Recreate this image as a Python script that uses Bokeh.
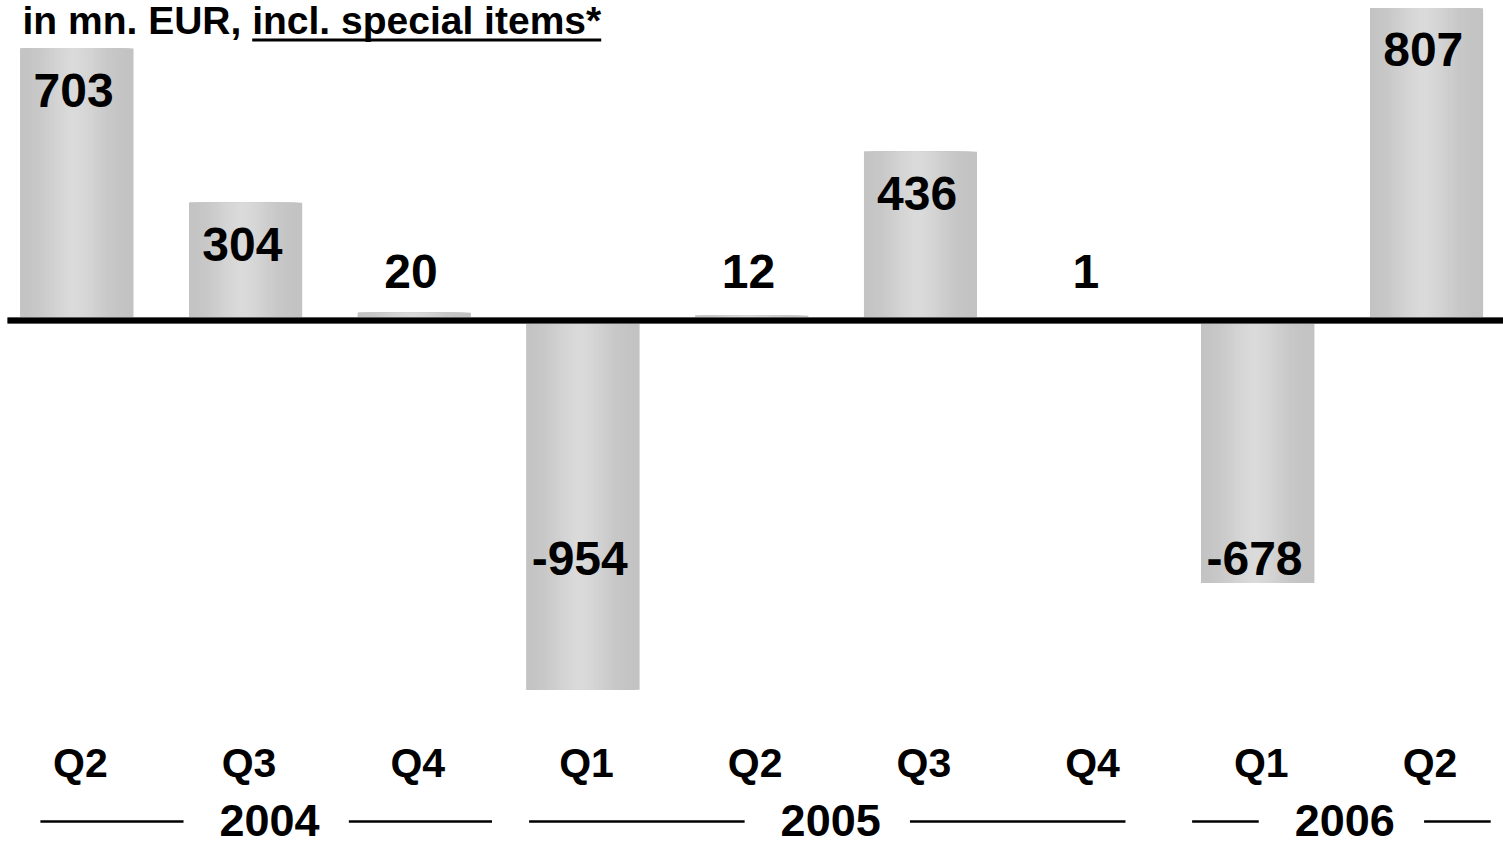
import numpy as np
from bokeh.plotting import figure
from bokeh.models import Range1d
from bokeh.core.properties import value
from bokeh.embed import file_html
from bokeh.resources import INLINE

# ---- data ----
quarters = ["Q2", "Q3", "Q4", "Q1", "Q2", "Q3", "Q4", "Q1", "Q2"]
years = ["2004", "2004", "2004", "2005", "2005", "2005", "2005", "2006", "2006"]
values = [703, 304, 20, -954, 12, 436, 1, -678, 807]
year_labels = ["2004", "2005", "2006"]
title_plain = "in mn. EUR, "
title_underlined = "incl. special items*"

# ---- layout constants (pixel mapping of the canvas) ----
W, H = 1503, 845
X0_PX, STEP_PX = 76.5, 168.7      # centre of first bar, bar spacing
Y0_PX, SCALE = 320.0, 0.387       # baseline pixel row, pixels per unit

def px2x(px):
    return (px - X0_PX) / STEP_PX

def py2y(py):
    return (Y0_PX - py) / SCALE

FONT = value("Liberation Sans")

p = figure(width=W, height=H, output_backend="svg", toolbar_location=None,
           x_range=Range1d(px2x(0), px2x(W)), y_range=Range1d(py2y(H), py2y(0)),
           x_axis_location=None, y_axis_location=None, min_border=0)
p.grid.visible = False
p.outline_line_color = None
p.background_fill_color = "white"
p.border_fill_color = "white"

idx = np.arange(len(values))
vals = np.array(values, dtype=float)

# ---- cylinder-like gradient bars: nested layers, lightest in the middle ----
bar_w = 0.67
peak = 0.47                      # relative position of the highlight
left = idx - bar_w / 2
right = idx + bar_w / 2
pk = left + peak * bar_w
n_layers = 28
dmax = max(peak, 1 - peak) * bar_w
for k in range(n_layers):
    d = dmax * (1 - k / n_layers)
    tnorm = d / bar_w
    f = np.exp(-(tnorm / 0.28) ** 2)
    g = int(round(194 + (218 - 194) * f))
    col = "#%02x%02x%02x" % (g, g, g)
    p.quad(left=np.maximum(left, pk - d), right=np.minimum(right, pk + d),
           top=np.maximum(vals, 0), bottom=np.minimum(vals, 0),
           fill_color=col, line_color=None)

# ---- baseline ----
p.segment(x0=[px2x(7)], y0=[0], x1=[px2x(W)], y1=[0], line_color="#7a7a7a", line_width=7)
p.segment(x0=[px2x(7)], y0=[0], x1=[px2x(W)], y1=[0], line_color="#000000", line_width=5.5)

# ---- value labels ----
lab_y = [v - 108 if v > 150 else (127 if v >= 0 else -615) for v in values]
p.text(x=idx - 0.02, y=lab_y, text=[str(v) for v in values], text_font=FONT,
       text_font_style="bold", text_font_size=value("48px"), text_color="black",
       text_align="center", text_baseline="middle")

# ---- quarter labels ----
p.text(x=idx + 0.02, y=[py2y(762)] * len(quarters), text=quarters, text_font=FONT,
       text_font_style="bold", text_font_size=value("41px"), text_color="black",
       text_align="center", text_baseline="middle")

# ---- year groups with lines ----
group_bounds = {"2004": (-0.217, 2.46), "2005": (2.68, 6.215), "2006": (6.61, 8.38)}
half_gap = 0.49
yl = py2y(821)
for yr in year_labels:
    lo, hi = group_bounds[yr]
    c = (lo + hi) / 2
    p.segment(x0=[lo, c + half_gap], y0=[yl, yl], x1=[c - half_gap, hi], y1=[yl, yl],
              line_color="black", line_width=2.5)
    p.text(x=[c + 0.02], y=[py2y(820)], text=[yr], text_font=FONT, text_font_style="bold",
           text_font_size=value("45px"), text_color="black",
           text_align="center", text_baseline="middle")

# ---- title with underlined part ----
fs = 39
tx = 22
p.text(x=[px2x(tx)], y=[py2y(20)], text=[title_plain + title_underlined], text_font=FONT,
       text_font_style="bold", text_font_size=value("%dpx" % fs), text_color="black",
       text_align="left", text_baseline="middle")
u0 = tx + 5.89 * fs
u1 = tx + 14.839 * fs
p.segment(x0=[px2x(u0)], y0=[py2y(39.5)], x1=[px2x(u1)], y1=[py2y(39.5)],
          line_color="black", line_width=3)

open("out.html", "w").write(file_html(p, INLINE))
